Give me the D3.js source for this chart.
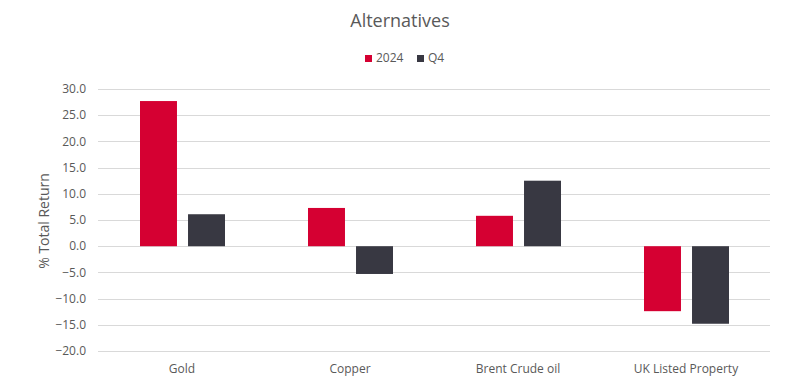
<!DOCTYPE html>
<html>
<head>
<meta charset="utf-8">
<script src="https://cdn.jsdelivr.net/npm/d3@7"></script>
<style>
  body { margin: 0; background: white; }
  text { font-family: "Open Sans", "Noto Sans", sans-serif; fill: #595959; }
</style>
</head>
<body>
<div class="chart"></div>
<script>
var categories = ['Gold', 'Copper', 'Brent Crude oil', 'UK Listed Property'];
var series = ['2024', 'Q4'];
var values2024 = [27.7, 7.3, 5.8, -12.4];
var valuesQ4 = [6.1, -5.3, 12.5, -14.8];
var yTicks = [30, 25, 20, 15, 10, 5, 0, -5, -10, -15, -20];
var colors = ['#d50032', '#383842'];

var width = 800,
    height = 384,
    plotLeft = 98,
    plotRight = 770,
    plotTop = 89,
    plotBottom = 351;

var svg = d3.select('.chart').append('svg')
    .attr('width', width)
    .attr('height', height)
    .style('background', 'white');

var x = d3.scaleBand().domain(categories).range([plotLeft, plotRight]).paddingInner(0).paddingOuter(0);
var x1 = d3.scaleBand().domain(series).range([42, x.bandwidth() - 41]).paddingInner(0.23);
var y = d3.scaleLinear().domain([-20, 30]).range([plotBottom, plotTop]);

// gridlines
svg.append('g').selectAll('line').data(yTicks)
  .enter().append('line')
    .attr('x1', plotLeft)
    .attr('x2', plotRight)
    .attr('y1', function(d) { return Math.round(y(d)) + 0.5; })
    .attr('y2', function(d) { return Math.round(y(d)) + 0.5; })
    .attr('stroke', '#d9d9d9')
    .attr('stroke-width', 1);

// y tick labels
svg.append('g').selectAll('text').data(yTicks)
  .enter().append('text')
    .attr('x', 86)
    .attr('y', function(d) { return y(d); })
    .attr('dy', '0.35em')
    .attr('text-anchor', 'end')
    .style('font-size', '12px')
    .text(function(d) { return d3.format('.1f')(d); });

// bars
var rows = categories.map(function(c, i) {
    return {cat: c, vals: [values2024[i], valuesQ4[i]]};
});
var groups = svg.append('g').selectAll('g').data(rows)
  .enter().append('g')
    .attr('transform', function(d) { return 'translate(' + x(d.cat) + ',0)'; });
groups.selectAll('rect').data(function(d) {
    return d.vals.map(function(v, j) { return {key: series[j], v: v, j: j}; });
  })
  .enter().append('rect')
    .attr('x', function(d) { return x1(d.key); })
    .attr('width', x1.bandwidth())
    .attr('y', function(d) { return y(Math.max(0, d.v)); })
    .attr('height', function(d) { return Math.abs(y(d.v) - y(0)); })
    .attr('fill', function(d) { return colors[d.j]; });

// category labels
svg.append('g').selectAll('text').data(categories)
  .enter().append('text')
    .attr('x', function(d) { return x(d) + x.bandwidth() / 2; })
    .attr('y', 373)
    .attr('text-anchor', 'middle')
    .style('font-size', '12px')
    .text(function(d) { return d; });

// axis title
svg.append('text')
    .attr('transform', 'translate(49,' + ((plotTop + plotBottom) / 2 + 1) + ') rotate(-90)')
    .attr('text-anchor', 'middle')
    .style('font-size', '14px')
    .text('% Total Return');

// title
svg.append('text')
    .attr('x', 400)
    .attr('y', 27)
    .attr('text-anchor', 'middle')
    .style('font-size', '18px')
    .text('Alternatives');

// legend
var legend = svg.append('g').selectAll('g').data(series)
  .enter().append('g')
    .attr('transform', function(d, i) { return 'translate(' + [365, 417][i] + ',0)'; });
legend.append('rect')
    .attr('x', 0)
    .attr('y', 55)
    .attr('width', 7)
    .attr('height', 7)
    .attr('fill', function(d, i) { return colors[i]; });
legend.append('text')
    .attr('x', 11)
    .attr('y', 62)
    .style('font-size', '12px')
    .text(function(d) { return d; });
</script>
</body>
</html>
